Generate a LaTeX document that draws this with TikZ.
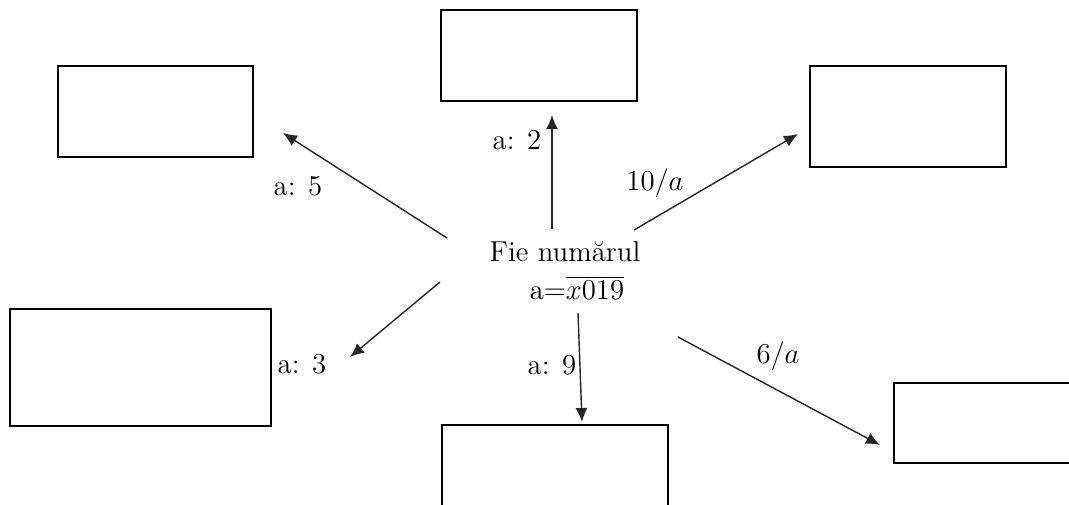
\documentclass[tikz,border=0pt]{standalone}
\usepackage{amsmath}
\tikzset{
  box/.style={draw=black, line width=1pt, inner sep=0pt},
  pfeil/.style={draw=black!85, line width=0.7pt, -{Latex[length=7pt,width=6pt]}},
  eti/.style={font=\Large, inner sep=0pt}
}
\usetikzlibrary{arrows.meta}
\begin{document}
\begin{tikzpicture}[x=0.5pt, y=-0.5pt, line join=miter]
  \clip (0,0) rectangle (1069,504);
  % Kasten rundherum
  \node[box, minimum width=98pt, minimum height=45.5pt] (sus) at (539,55.5) {};
  \node[box, minimum width=97.5pt, minimum height=45.5pt] (stsus) at (155.5,111.5) {};
  \node[box, minimum width=98pt, minimum height=50.5pt] (drsus) at (908,116.5) {};
  \node[box, minimum width=130.5pt, minimum height=58.5pt] (stjos) at (140.5,367.5) {};
  \node[box, minimum width=113pt, minimum height=50pt] (jos) at (555,475) {};
  \node[box, minimum width=100pt, minimum height=40pt] (drjos) at (994,423) {};
  % Mitte
  \node[eti, align=center] (mitte) at (565,271)
    {Fie numărul\\[1pt] \hspace*{12pt}a=$\overline{x019}$};
  % Enden der Pfeile
  \coordinate (a1) at (552,229);  \coordinate (b1) at (552,115);
  \coordinate (a2) at (447,238);  \coordinate (b2) at (283,133);
  \coordinate (a3) at (634,230);  \coordinate (b3) at (798,134);
  \coordinate (a4) at (440,282);  \coordinate (b4) at (350,357);
  \coordinate (a5) at (578,313);  \coordinate (b5) at (582,422);
  \coordinate (a6) at (678,337);  \coordinate (b6) at (880,445);
  \draw[pfeil] (a1) -- (b1);
  \draw[pfeil] (a2) -- (b2);
  \draw[pfeil] (a3) -- (b3);
  \draw[pfeil] (a4) -- (b4);
  \draw[pfeil] (a5) -- (b5);
  \draw[pfeil] (a6) -- (b6);
  % Beschriftungen
  \node[eti] (l2) at (517,140) {a: 2};
  \node[eti] (l5) at (298,186) {a: 5};
  \node[eti] (l10) at (655,183) {$10/a$};
  \node[eti] (l3) at (302,364) {a: 3};
  \node[eti] (l9) at (552,365) {a: 9};
  \node[eti] (l6) at (778,356) {$6/a$};
\end{tikzpicture}
\end{document}
